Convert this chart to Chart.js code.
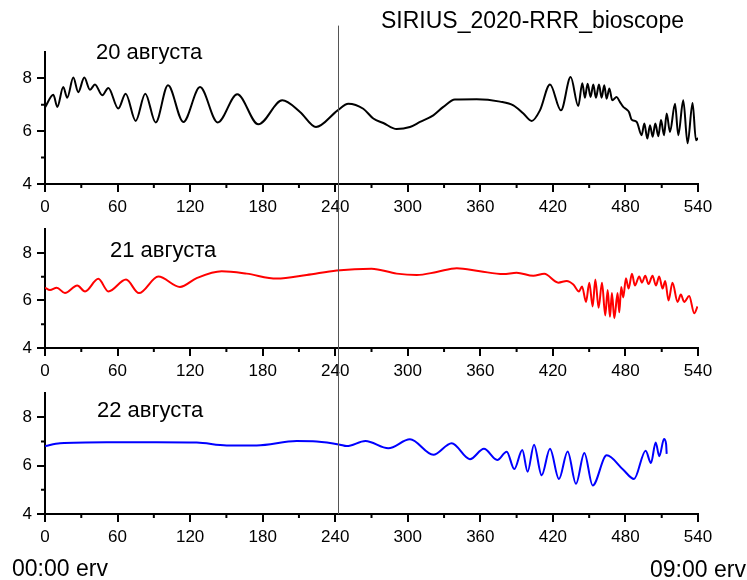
<!DOCTYPE html>
<html>
<head>
<meta charset="utf-8">
<script src="https://cdn.jsdelivr.net/npm/chart.js@4/dist/chart.umd.min.js"></script>
<style>
  body { margin: 0; background: #fff; }
  #wrap { position: relative; width: 747px; height: 580px; font-family: "Liberation Sans", Arial, sans-serif; color: #000; }
  canvas { position: absolute; left: 0; }
  .txt { position: absolute; line-height: 1; white-space: nowrap; }
</style>
</head>
<body>
<div id="wrap">
  <canvas id="c20" width="747" height="214" style="top:0px"></canvas>
  <canvas id="c21" width="747" height="164" style="top:214px"></canvas>
  <canvas id="c22" width="747" height="202" style="top:378px"></canvas>
  <div class="txt" style="left:381px; top:9px; font-size:23px">SIRIUS_2020-RRR_bioscope</div>
  <div class="txt" style="left:96px; top:41px; font-size:22px">20 августа</div>
  <div class="txt" style="left:110px; top:239px; font-size:22px">21 августа</div>
  <div class="txt" style="left:97px; top:399px; font-size:22px">22 августа</div>
  <div class="txt" style="left:12px; top:557px; font-size:23px">00:00 erv</div>
  <div class="txt" style="left:650px; top:558px; font-size:23px">09:00 erv</div>
</div>
<script>
// minutes from 00:00 and readings
var t20 = [0, 6.9, 10.2, 15.1, 18.4, 23.4, 27.5, 32.5, 37.2, 41.3, 47.4, 52.4, 60.6, 66.7, 75.0, 82.9, 91.5, 101.7, 114.4, 128.2,
  142.8, 159.0, 176.4, 196.2, 210.9, 224.1, 242.0, 250.8, 263.2, 271.5, 279.8, 290.8, 301.8, 310.1, 321.1, 329.4, 339.0, 357.0,
  376.3, 387.3, 395.6, 402.5, 409.3, 417.6, 426.7, 434.7, 441.0, 444.3, 446.5, 448.7, 451.2, 453.4, 455.6, 458.1, 460.3, 462.5,
  464.4, 466.7, 469.1, 472.7, 475.4, 478.2, 481.0, 483.0, 485.1, 489.3, 493.4, 495.6, 498.1, 500.3, 502.5, 504.7, 507.2, 509.4,
  511.9, 514.1, 516.8, 521.0, 523.7, 527.8, 531.4, 535.5, 538.3, 540];
var v20 = [6.90, 7.38, 6.92, 7.67, 7.27, 8.03, 7.48, 8.03, 7.57, 7.77, 7.36, 7.64, 6.86, 7.42, 6.39, 7.42, 6.33, 7.74, 6.35, 7.67,
  6.33, 7.40, 6.26, 7.17, 6.73, 6.16, 6.79, 7.04, 6.85, 6.48, 6.31, 6.08, 6.16, 6.35, 6.60, 6.92, 7.20, 7.21,
  7.12, 6.98, 6.67, 6.39, 6.79, 7.77, 6.79, 8.05, 6.95, 7.82, 7.27, 7.80, 7.30, 7.77, 7.27, 7.77, 7.27, 7.74,
  7.23, 7.62, 7.17, 7.30, 7.11, 6.92, 6.82, 6.72, 6.44, 6.35, 5.85, 6.29, 5.72, 6.23, 5.79, 6.29, 5.81, 6.42,
  5.85, 6.67, 5.97, 7.04, 5.85, 7.17, 5.54, 7.07, 5.66, 5.74];

var t21 = [0, 4.1, 9.7, 16.5, 26.7, 33.1, 44.1, 52.4, 67.0, 77.7, 93.7, 111.6, 125.4, 146.1, 166.8, 191.6, 216.4, 241.2, 270.0,
  290.8, 307.4, 323.9, 340.5, 359.7, 379.0, 390.0, 403.8, 412.9, 424.5, 431.4, 436.9, 441.6, 444.1, 447.4, 450.1, 452.9, 455.1,
  457.8, 460.6, 463.3, 465.3, 467.2, 468.8, 470.8, 473.5, 474.9, 476.5, 478.2, 480.4, 482.6, 485.4, 487.8, 491.4, 493.6, 496.4,
  499.1, 502.4, 505.2, 507.9, 510.7, 512.9, 515.6, 518.9, 523.1, 525.8, 528.6, 532.7, 536.9, 539.6];
var v21 = [6.54, 6.44, 6.54, 6.31, 6.63, 6.38, 6.91, 6.38, 6.88, 6.31, 7.01, 6.57, 6.94, 7.23, 7.13, 6.92, 7.07, 7.26, 7.34,
  7.13, 7.07, 7.20, 7.36, 7.23, 7.11, 7.17, 7.04, 7.12, 6.75, 6.82, 6.67, 6.38, 6.59, 5.94, 6.75, 5.75, 6.88,
  5.69, 6.75, 5.37, 6.44, 5.31, 6.31, 5.25, 6.31, 5.50, 6.57, 6.13, 6.94, 6.50, 7.13, 6.63, 7.01, 6.75, 7.04,
  6.69, 7.04, 6.63, 7.01, 6.50, 6.82, 6.00, 6.75, 5.94, 6.25, 5.94, 6.19, 5.46, 5.75];

var t22 = [0, 12.4, 51.0, 92.4, 125.4, 150.2, 175.1, 208.1, 224.7, 243.9, 249.5, 265.0, 283.9, 301.8, 321.1, 336.3, 351.4,
  363.0, 374.0, 381.8, 388.1, 394.7, 399.1, 404.4, 410.7, 417.6, 425.0, 432.2, 439.1, 446.0, 452.9, 464.5, 478.2, 487.1,
  496.7, 501.1, 505.0, 508.0, 511.9, 513.6, 514.1];
var v22 = [6.81, 6.93, 6.97, 6.97, 6.96, 6.84, 6.84, 7.02, 7.00, 6.87, 6.81, 7.02, 6.72, 7.09, 6.45, 6.93, 6.27,
  6.70, 6.24, 6.58, 5.86, 6.65, 5.75, 6.87, 5.60, 6.70, 5.45, 6.59, 5.25, 6.53, 5.18, 6.43, 5.83, 5.45,
  6.62, 6.11, 6.96, 6.39, 7.10, 6.90, 6.49];

var xTicksMinor = [30, 90, 150, 210, 270, 330, 390, 450, 510];
var yTicksMajor = [4, 6, 8];
var yTicksMinor = [5, 7];
var markerTime = 242;

Chart.defaults.font.family = '"Liberation Sans", Arial, sans-serif';
Chart.defaults.color = '#000';

function toPoints(ts, vs) {
  return ts.map(function (t, i) { return { x: t, y: vs[i] }; });
}

// minor ticks and the marker line
var extras = {
  id: 'extras',
  afterDraw: function (chart, args, opts) {
    var ctx = chart.ctx;
    var x = chart.scales.x, y = chart.scales.y;
    var a = chart.chartArea;
    ctx.save();
    ctx.strokeStyle = '#000';
    ctx.lineWidth = 2;
    ctx.beginPath();
    xTicksMinor.forEach(function (v) {
      var px = x.getPixelForValue(v);
      ctx.moveTo(px, a.bottom);
      ctx.lineTo(px, a.bottom + 4);
    });
    yTicksMinor.forEach(function (v) {
      var py = y.getPixelForValue(v);
      ctx.moveTo(a.left, py);
      ctx.lineTo(a.left - 4, py);
    });
    ctx.stroke();

    var mx = Math.round(x.getPixelForValue(markerTime)) + 0.5;
    var top = opts.fromValue != null ? y.getPixelForValue(opts.fromValue) : 0;
    var bottom = opts.toAxis ? a.bottom : chart.height;
    ctx.strokeStyle = '#555';
    ctx.lineWidth = 1;
    ctx.beginPath();
    ctx.moveTo(mx, top);
    ctx.lineTo(mx, bottom);
    ctx.stroke();
    ctx.restore();
  }
};

function makePanel(id, ts, vs, color, padTop, axisH, lineOpts) {
  return new Chart(document.getElementById(id), {
    type: 'line',
    data: {
      datasets: [{
        data: toPoints(ts, vs),
        borderColor: color,
        borderWidth: 2,
        pointRadius: 0,
        cubicInterpolationMode: 'monotone',
        fill: false
      }]
    },
    options: {
      responsive: false,
      animation: false,
      events: [],
      layout: { padding: { left: 0, right: 49, top: padTop, bottom: 0 } },
      plugins: { legend: { display: false }, tooltip: { enabled: false }, extras: lineOpts },
      scales: {
        x: {
          type: 'linear', min: 0, max: 540,
          ticks: { stepSize: 60, font: { size: 17 }, padding: 5, maxRotation: 0 },
          grid: { display: true, drawOnChartArea: false, drawTicks: true, tickLength: 8, color: '#000', lineWidth: 2 },
          border: { display: true, color: '#000', width: 2 },
          afterFit: function (s) { s.height = axisH; }
        },
        y: {
          type: 'linear', min: 4, max: 9,
          afterBuildTicks: function (s) { s.ticks = yTicksMajor.map(function (v) { return { value: v }; }); },
          ticks: { font: { size: 17 }, padding: 5 },
          grid: { display: true, drawOnChartArea: false, drawTicks: true, tickLength: 8, color: '#000', lineWidth: 2 },
          border: { display: true, color: '#000', width: 2 },
          afterFit: function (s) { s.width = 45; }
        }
      }
    },
    plugins: [extras]
  });
}

var chart20 = makePanel('c20', t20, v20, '#000000', 52, 30, { fromValue: 10 });
var chart21 = makePanel('c21', t21, v21, '#ff0000', 1, 30, {});
var chart22 = makePanel('c22', t22, v22, '#0000ff', 2, 66, { toAxis: true });
</script>
</body>
</html>
